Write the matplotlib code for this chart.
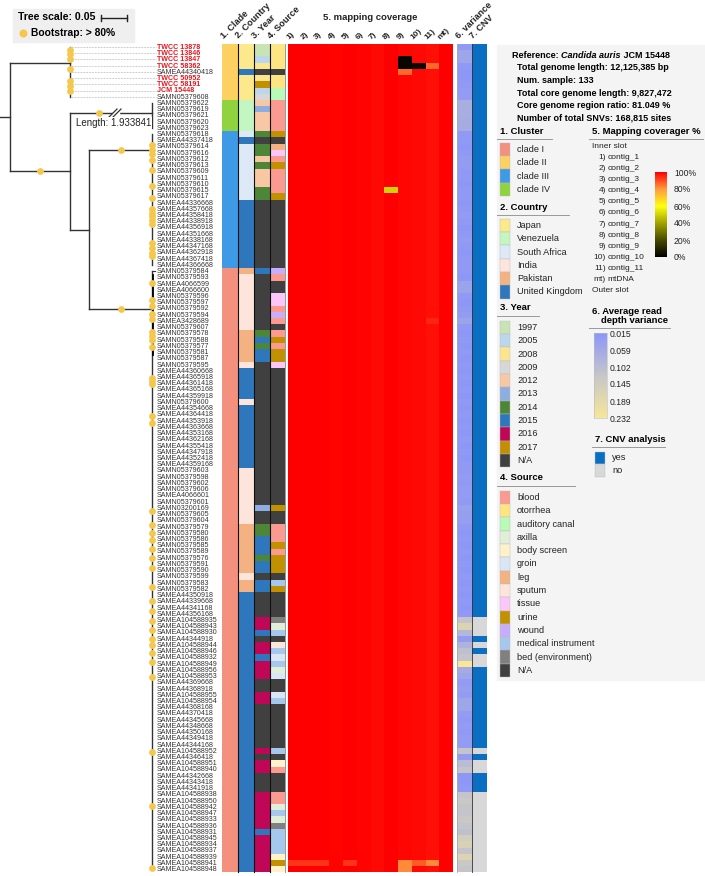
import numpy as np
import matplotlib
matplotlib.use('Agg')
import matplotlib.pyplot as plt
from matplotlib.colors import LinearSegmentedColormap, ListedColormap, BoundaryNorm
from matplotlib.patches import Rectangle
from matplotlib.cm import ScalarMappable
from matplotlib.colors import Normalize

plt.rcParams['font.family'] = ['Liberation Sans', 'DejaVu Sans']

# ---------------- data ----------------
samples = [
    "TWCC 13878", "TWCC 13846", "TWCC 13847", "TWCC 58362", "SAMEA44340418", "TWCC 50952",
    "TWCC 58191", "JCM 15448", "SAMN05379608", "SAMN05379622", "SAMN05379619", "SAMN05379621",
    "SAMN05379620", "SAMN05379623", "SAMN05379618", "SAMEA44337418", "SAMN05379614", "SAMN05379616",
    "SAMN05379612", "SAMN05379613", "SAMN05379609", "SAMN05379611", "SAMN05379610", "SAMN05379615",
    "SAMN05379617", "SAMEA44336668", "SAMEA44357668", "SAMEA44358418", "SAMEA44338918", "SAMEA44356918",
    "SAMEA44351668", "SAMEA44338168", "SAMEA44347168", "SAMEA44362918", "SAMEA44367418", "SAMEA44366668",
    "SAMN05379584", "SAMN05379593", "SAMEA4066599", "SAMEA4066600", "SAMN05379596", "SAMN05379597",
    "SAMN05379592", "SAMN05379594", "SAMEA3428689", "SAMN05379607", "SAMN05379578", "SAMN05379588",
    "SAMN05379577", "SAMN05379581", "SAMN05379587", "SAMN05379595", "SAMEA44360668", "SAMEA44365918",
    "SAMEA44361418", "SAMEA44365168", "SAMEA44359918", "SAMN05379600", "SAMEA44354668", "SAMEA44364418",
    "SAMEA44353918", "SAMEA44363668", "SAMEA44353168", "SAMEA44362168", "SAMEA44355418", "SAMEA44347918",
    "SAMEA44352418", "SAMEA44359168", "SAMN05379603", "SAMN05379598", "SAMN05379602", "SAMN05379606",
    "SAMEA4066601", "SAMN05379601", "SAMN03200169", "SAMN05379605", "SAMN05379604", "SAMN05379579",
    "SAMN05379580", "SAMN05379586", "SAMN05379585", "SAMN05379589", "SAMN05379576", "SAMN05379591",
    "SAMN05379590", "SAMN05379599", "SAMN05379583", "SAMN05379582", "SAMEA44350918", "SAMEA44339668",
    "SAMEA44341168", "SAMEA44356168", "SAMEA104588935", "SAMEA104588943", "SAMEA104588930", "SAMEA44344918",
    "SAMEA104588944", "SAMEA104588946", "SAMEA104588932", "SAMEA104588949", "SAMEA104588956", "SAMEA104588953",
    "SAMEA44369668", "SAMEA44368918", "SAMEA104588955", "SAMEA104588954", "SAMEA44368168", "SAMEA44370418",
    "SAMEA44345668", "SAMEA44348668", "SAMEA44350168", "SAMEA44349418", "SAMEA44344168", "SAMEA104588952",
    "SAMEA44346418", "SAMEA104588951", "SAMEA104588940", "SAMEA44342668", "SAMEA44343418", "SAMEA44341918",
    "SAMEA104588938", "SAMEA104588950", "SAMEA104588942", "SAMEA104588947", "SAMEA104588933", "SAMEA104588936",
    "SAMEA104588931", "SAMEA104588945", "SAMEA104588934", "SAMEA104588937", "SAMEA104588939", "SAMEA104588941",
    "SAMEA104588948",
]
highlight_samples = ["TWCC 13878", "TWCC 13846", "TWCC 13847", "TWCC 58362",
                     "TWCC 50952", "TWCC 58191", "JCM 15448"]

cluster_cats = ["clade I", "clade II", "clade III", "clade IV"]
cluster_colors = ["#f4907e", "#fdd062", "#3f9ae6", "#8fd43f"]
cluster_runs = [("clade II", 9), ("clade IV", 5), ("clade III", 22), ("clade I", 97)]

country_cats = ["Japan", "Venezuela", "South Africa", "India", "Pakistan", "United Kingdom"]
country_colors = ["#fbe98c", "#c3f6c1", "#dde9f6", "#fde5dc", "#f4b181", "#2f77bd"]
country_runs = [("Japan", 4), ("United Kingdom", 1), ("Japan", 4), ("Venezuela", 5),
                ("South Africa", 1), ("United Kingdom", 1), ("South Africa", 9),
                ("United Kingdom", 11), ("Pakistan", 1), ("India", 9), ("Pakistan", 5),
                ("India", 1), ("United Kingdom", 5), ("India", 1), ("United Kingdom", 10),
                ("India", 9), ("Pakistan", 8), ("India", 1), ("Pakistan", 2),
                ("United Kingdom", 45)]

year_cats = ["1997", "2005", "2008", "2009", "2012", "2013", "2014", "2015", "2016", "2017", "N/A"]
year_colors = ["#c8e3b4", "#bcd6ee", "#fbe68f", "#d7d7d7", "#f8c8a5", "#8eaee1",
               "#4d8636", "#2f77bd", "#c00656", "#c28f00", "#404040"]
year_runs = [("1997", 2), ("2005", 1), ("2008", 1), ("N/A", 1), ("2008", 1), ("2017", 1),
             ("2005", 1), ("2009", 1), ("2012", 1), ("2013", 1), ("2012", 3), ("2014", 1),
             ("N/A", 1), ("2014", 2), ("2012", 1), ("2014", 1), ("2012", 3), ("2014", 2),
             ("N/A", 11), ("2015", 1), ("N/A", 9), ("2014", 1), ("2015", 1), ("2014", 1),
             ("2015", 2), ("N/A", 23), ("2013", 1), ("N/A", 2), ("2014", 2), ("2015", 3),
             ("2014", 1), ("2015", 2), ("N/A", 1), ("2015", 2), ("N/A", 4), ("2016", 2),
             ("2015", 1), ("N/A", 1), ("2016", 2), ("2015", 1), ("2016", 3), ("N/A", 2),
             ("2016", 2), ("N/A", 7), ("2016", 1), ("N/A", 1), ("2016", 2), ("N/A", 3),
             ("2016", 6), ("2015", 1), ("2016", 6)]

source_cats = ["blood", "otorrhea", "auditory canal", "axilla", "body screen", "groin", "leg",
               "sputum", "tissue", "urine", "wound", "medical instrument", "bed (environment)", "N/A"]
source_colors = ["#fb9a90", "#fde582", "#b8fab8", "#e1eed8", "#fff1ca", "#d8e6f6", "#f4b181",
                 "#fde5dc", "#fbc6f8", "#c29100", "#c8aefa", "#a5c8ec", "#808080", "#404040"]
source_runs = [("otorrhea", 4), ("N/A", 1), ("otorrhea", 2), ("auditory canal", 2), ("blood", 5),
               ("urine", 1), ("N/A", 1), ("leg", 1), ("tissue", 1), ("blood", 1), ("urine", 1),
               ("blood", 4), ("urine", 1), ("N/A", 11), ("wound", 1), ("blood", 1), ("N/A", 2),
               ("tissue", 2), ("blood", 1), ("wound", 1), ("blood", 1), ("N/A", 1), ("blood", 1),
               ("urine", 1), ("blood", 1), ("urine", 2), ("tissue", 1), ("N/A", 22), ("urine", 1),
               ("N/A", 2), ("blood", 3), ("urine", 1), ("blood", 1), ("urine", 3), ("N/A", 1),
               ("medical instrument", 1), ("urine", 1), ("N/A", 4), ("bed (environment)", 1),
               ("axilla", 1), ("medical instrument", 1), ("N/A", 1), ("sputum", 1),
               ("medical instrument", 1), ("groin", 1), ("medical instrument", 1), ("axilla", 1),
               ("groin", 1), ("N/A", 2), ("groin", 1), ("medical instrument", 1), ("N/A", 7),
               ("medical instrument", 1), ("N/A", 1), ("body screen", 1), ("blood", 1), ("N/A", 3),
               ("blood", 2), ("axilla", 1), ("medical instrument", 1), ("axilla", 1),
               ("bed (environment)", 1), ("medical instrument", 4), ("body screen", 1), ("urine", 1),
               ("body screen", 1)]

coverage_cols = ["1)", "2)", "3)", "4)", "5)", "6)", "7)", "8)", "9)", "10)", "11)", "mt)"]
contig_names = ["contig_1", "contig_2", "contig_3", "contig_4", "contig_5", "contig_6", "contig_7",
                "contig_8", "contig_9", "contig_10", "contig_11", "mtDNA"]
# typical coverage fraction per contig column
coverage_base = [1.0, 1.0, 1.0, 0.995, 1.0, 0.995, 0.985, 1.0, 0.99, 0.985, 0.98, 1.0]
# (row, column, coverage) cells that differ from the column's typical value
coverage_cells = [(3, 9, 0.02), (4, 9, 0.02), (4, 10, 0.03), (4, 11, 0.86), (5, 9, 0.86),
                  (24, 8, 0.5), (45, 11, 0.95),
                  (132, 1, 0.93), (132, 2, 0.93), (132, 3, 0.93), (132, 5, 0.93),
                  (132, 9, 0.82), (132, 10, 0.88), (132, 11, 0.82), (133, 9, 0.82)]

variance = [0.025, 0.05, 0.05, 0.025, 0.02, 0.02, 0.025, 0.03, 0.03,
            0.07, 0.07, 0.07, 0.065, 0.065,
            0.025, 0.025, 0.02, 0.025, 0.03, 0.03, 0.025, 0.025, 0.02, 0.025, 0.025,
            0.02, 0.025, 0.03, 0.025, 0.02, 0.025, 0.03, 0.025, 0.02, 0.025, 0.025,
            0.025, 0.02, 0.045, 0.045, 0.025, 0.02, 0.025, 0.03, 0.045, 0.025, 0.02, 0.025,
            0.02, 0.025, 0.02, 0.025, 0.02, 0.025, 0.02, 0.025, 0.02, 0.025, 0.02, 0.025,
            0.02, 0.025, 0.02, 0.025, 0.02, 0.025, 0.02, 0.025,
            0.025, 0.03, 0.025, 0.03, 0.03, 0.025, 0.04, 0.035, 0.035, 0.025, 0.02, 0.025,
            0.02, 0.025, 0.02, 0.025, 0.02, 0.025, 0.02, 0.025, 0.02, 0.025, 0.02, 0.025,
            0.12, 0.17, 0.09, 0.03, 0.08, 0.11, 0.12, 0.232, 0.06, 0.05,
            0.03, 0.035, 0.03, 0.05, 0.05, 0.03, 0.025, 0.03, 0.025, 0.03, 0.03,
            0.12, 0.03, 0.1, 0.12, 0.02, 0.02, 0.025,
            0.12, 0.13, 0.12, 0.12, 0.13, 0.12, 0.11, 0.15, 0.16, 0.12, 0.17, 0.13, 0.12]
variance_ticks = [0.015, 0.059, 0.102, 0.145, 0.189, 0.232]

cnv_cats = ["yes", "no"]
cnv_colors = ["#0a6fc2", "#d8d8d8"]
cnv_runs = [("yes", 92), ("no", 3), ("yes", 1), ("no", 1), ("yes", 1), ("no", 2), ("yes", 13),
            ("no", 1), ("yes", 1), ("no", 2), ("yes", 3), ("no", 13)]

# tree: branch depths (substitutions/site) and clade tip ranges
node_depth = {"root": 0.0, "II": 0.115, "A": 0.115, "B": 0.152, "IV": 0.273, "III": 0.273, "I": 0.273}
clade_rows = {"II": (1, 9), "IV": (10, 14), "III": (15, 36), "I": (37, 133)}
clade_join_row = {"II": 3.57, "IV": 11.6, "III": 17.5, "I": 43.1}
children = {"root": ["II", "A"], "A": ["IV", "B"], "B": ["III", "I"]}
boot_branch = {"A": 0.5, "IV": 0.36, "III": 0.5, "I": 0.5}
boot_tip_rows = {
    "II": [1.5, 2.2, 2.9, 4.6, 6.5, 7.3, 8.0],
    "III": [16.8, 17.5, 18.2, 19.2, 20.8, 23.3, 25.3, 27.0, 27.6, 28.2, 28.8, 29.4,
            32.4, 33.2, 34.0, 34.6],
    "I": [38.8, 41.6, 42.6, 43.8, 44.7, 46.8, 47.4, 48.0, 49.1, 54.1, 54.6, 55.1, 60.2, 61.3,
          75.5, 77.8, 79.0, 80.1, 81.5, 83.1, 84.6, 87.7, 90.0, 91.5, 93.1, 94.6, 96.0, 97.0,
          98.3, 99.7, 102.2, 114.1, 122.9, 132.8],
}

info_lines = ["Total genome length: 12,125,385 bp", "Num. sample: 133",
              "Total core genome length: 9,827,472", "Core genome region ratio: 81.049 %",
              "Number of total SNVs: 168,815 sites"]


def expand(runs):
    out = []
    for name, n in runs:
        out += [name] * n
    return out


# ---------------- layout (pixels) ----------------
W, H = 705, 876
ROW0, RH = 43.9, 6.23
N = len(samples)
XSCALE, X0 = 520.0, 10.0          # tree px per unit, root x
TIP_X = 157
META_EDGES = [222, 237.5, 253.5, 269.5, 285]
COV_X0, COV_X1 = 288, 453
VAR_X = (457, 471.5)
CNV_X = (471.5, 487)
YEDGES = ROW0 + RH * np.arange(N + 1)
BOOT_C = "#f5c84c"


def yrow(r):
    return ROW0 + RH * (r - 0.5)


def xd(d):
    return X0 + d * XSCALE


fig = plt.figure(figsize=(W / 100, H / 100), dpi=100)
ax = fig.add_axes([0, 0, 1, 1])
ax.set_xlim(0, W)
ax.set_ylim(H, 0)
ax.axis("off")

# ---------------- tree ----------------
lc = "#333333"
join_y = {k: yrow(v) for k, v in clade_join_row.items()}


def node_y(n):
    if n in join_y:
        return join_y[n]
    return np.mean([node_y(c) for c in children[n]])


for n, (lo, hi) in clade_rows.items():
    ax.plot([xd(node_depth[n])] * 2, [yrow(lo), yrow(hi)], color=lc, lw=1.0, zorder=2)

for p, chs in children.items():
    ys = [node_y(c) for c in chs]
    ax.plot([xd(node_depth[p])] * 2, [min(ys), max(ys)], color=lc, lw=1.0, zorder=2)
    for c in chs:
        ax.plot([xd(node_depth[p]), xd(node_depth[c])], [node_y(c)] * 2, color=lc, lw=1.0, zorder=2)
        if c in boot_branch:
            f = boot_branch[c]
            ax.scatter([xd(node_depth[p]) * (1 - f) + xd(node_depth[c]) * f], [node_y(c)],
                       s=24, color=BOOT_C, zorder=5, linewidths=0)
ax.plot([0, xd(0)], [node_y("root")] * 2, color=lc, lw=1.0)

# clade I internal structure
ax.plot([xd(node_depth["I"]) + 1.5] * 2, [yrow(37.6), yrow(50.5)], color="black", lw=1.3, zorder=3)
ax.plot([xd(node_depth["I"]), xd(node_depth["I"]) + 3], [yrow(37)] * 2, color=lc, lw=0.8)

# truncated long branch to clade IV
xa, xb = xd(node_depth["A"]), xd(node_depth["IV"])
yiv = node_y("IV")
bx = xa + 0.55 * (xb - xa)
ax.add_patch(Rectangle((bx - 2, yiv - 3), 6, 6, color="white", zorder=3))
for dx in (-2, 2):
    ax.plot([bx + dx - 4, bx + dx + 4], [yiv + 4, yiv - 4], color=lc, lw=0.9, zorder=4)
ax.text(xa + 6, yiv + 10, "Length: 1.933841", fontsize=7, va="center", ha="left", color="#222222",
        bbox=dict(facecolor="white", edgecolor="none", pad=0.5), zorder=4)

# dotted leader lines for clade II
lo, hi = clade_rows["II"]
for r in range(lo, hi + 1):
    ax.plot([xd(node_depth["II"]), TIP_X - 1], [yrow(r)] * 2, color="#999999", lw=0.5,
            ls=(0, (1, 1.2)), zorder=1)

for n, rows in boot_tip_rows.items():
    ax.scatter([xd(node_depth[n])] * len(rows), [yrow(r) for r in rows], s=24, color=BOOT_C,
               zorder=5, linewidths=0)

# labels
for i, s in enumerate(samples):
    hl = s in highlight_samples
    ax.text(TIP_X, yrow(i + 1) + 0.3, s, fontsize=5.1, va="center", ha="left",
            color="#e8151c" if hl else "#333333", fontweight="bold" if hl else "normal")

# ---------------- metadata strips ----------------
meta = [(expand(cluster_runs), cluster_cats, cluster_colors),
        (expand(country_runs), country_cats, country_colors),
        (expand(year_runs), year_cats, year_colors),
        (expand(source_runs), source_cats, source_colors)]
for k, (vals, cats, cols) in enumerate(meta):
    codes = np.array([cats.index(v) for v in vals]).reshape(-1, 1)
    cmap = ListedColormap(cols)
    norm = BoundaryNorm(np.arange(len(cats) + 1) - 0.5, len(cats))
    ax.pcolormesh([META_EDGES[k], META_EDGES[k + 1]], YEDGES, codes, cmap=cmap, norm=norm,
                  zorder=2)
for x in META_EDGES[1:4]:
    ax.plot([x, x], [YEDGES[0], YEDGES[-1]], color="#111111", lw=0.8, zorder=3)
ax.plot([META_EDGES[4]] * 2, [YEDGES[0], YEDGES[-1]], color="#888888", lw=0.6, zorder=3)

# coverage heatmap
cov = np.tile(np.array(coverage_base), (N, 1))
for r, c, v in coverage_cells:
    cov[r - 1, c - 1] = v
cov_cmap = LinearSegmentedColormap.from_list(
    "cov", [(0, "#000000"), (0.2, "#4a4a00"), (0.4, "#a3a300"), (0.6, "#ffff10"),
            (0.8, "#ff9a40"), (1.0, "#ff0000")])
ax.pcolormesh(np.linspace(COV_X0, COV_X1, len(coverage_cols) + 1), YEDGES, cov, cmap=cov_cmap,
              vmin=0, vmax=1, zorder=2)

# variance
var_cmap = LinearSegmentedColormap.from_list("var", [(0, "#8b96f8"), (0.5, "#c6c6c8"),
                                                     (1.0, "#f7e796")])
ax.pcolormesh(list(VAR_X), YEDGES, np.array(variance).reshape(-1, 1), cmap=var_cmap,
              vmin=variance_ticks[0], vmax=variance_ticks[-1], zorder=2)
ax.plot([VAR_X[0]] * 2, [YEDGES[0], YEDGES[-1]], color="#aaaaaa", lw=0.6, zorder=3)

# cnv
cnv_vals = expand(cnv_runs)
ax.pcolormesh(list(CNV_X), YEDGES, np.array([cnv_cats.index(v) for v in cnv_vals]).reshape(-1, 1),
              cmap=ListedColormap(cnv_colors), norm=BoundaryNorm([-0.5, 0.5, 1.5], 2), zorder=2)
ax.plot([CNV_X[0]] * 2, [YEDGES[0], YEDGES[-1]], color="#333333", lw=0.6, zorder=3)

# headers
hdr_kw = dict(fontsize=6.6, fontweight="bold", rotation=45, rotation_mode="anchor",
              ha="left", va="bottom", color="#222222")
for k, t in enumerate(["1. Clade", "2. Country", "3. Year", "4. Source"]):
    ax.text(META_EDGES[k] + 3, 40, t, **hdr_kw)
cw = (COV_X1 - COV_X0) / len(coverage_cols)
for j, t in enumerate(coverage_cols):
    ax.text(COV_X0 + cw * j + 2.5, 41, t, **dict(hdr_kw, fontsize=6.0))
ax.text(VAR_X[0] + 3, 40, "6. variance", **hdr_kw)
ax.text(CNV_X[0] + 3, 40, "7. CNV", **hdr_kw)
ax.text((COV_X0 + COV_X1) / 2, 17, "5. mapping coverage", fontsize=6.8, fontweight="bold",
        ha="center", va="center", color="#222222")

# ---------------- tree legend box ----------------
ax.add_patch(Rectangle((13, 9), 121, 33, color="#efefef", zorder=0))
ax.text(18, 17.5, "Tree scale: 0.05", fontsize=7.6, fontweight="bold", va="center", ha="left")
sb0 = 101
ax.plot([sb0, sb0 + 0.05 * XSCALE], [17.5, 17.5], color="#222222", lw=1.0)
for x in (sb0, sb0 + 0.05 * XSCALE):
    ax.plot([x, x], [14.5, 20.5], color="#222222", lw=1.0)
ax.scatter([23], [32.5], s=34, color=BOOT_C, linewidths=0)
ax.text(31, 32.5, "Bootstrap: > 80%", fontsize=7.4, fontweight="bold", va="center", ha="left")

# ---------------- right legend panel ----------------
ax.add_patch(Rectangle((497, 45), W - 497, 635, color="#f4f4f4", zorder=0))
t1 = ax.text(512, 55, "Reference: ", fontsize=6.5, fontweight="bold", va="center", ha="left")
t2 = ax.annotate("Candida auris", xy=(1, 0.5), xycoords=t1, fontsize=6.5, fontweight="bold",
                 style="italic", va="center", ha="left")
ax.annotate(" JCM 15448", xy=(1, 0.5), xycoords=t2, fontsize=6.5, fontweight="bold",
            va="center", ha="left")
for i, t in enumerate(info_lines):
    ax.text(517, 67.8 + 12.6 * i, t, fontsize=6.5, fontweight="bold", va="center", ha="left")


def cat_legend(title, cats, cols, x, ytitle, ystart, step, uline_w):
    ax.text(x, ytitle, title, fontsize=6.8, fontweight="bold", va="center", ha="left")
    ax.plot([x - 3, x - 3 + uline_w], [ytitle + 8, ytitle + 8], color="#9a9a9a", lw=0.7)
    for i, (c, col) in enumerate(zip(cats, cols)):
        yy = ystart + step * i
        ax.add_patch(Rectangle((x, yy - step / 2), 10, step, facecolor=col, edgecolor="#bbbbbb",
                               lw=0.3))
        ax.text(x + 17, yy, c, fontsize=6.6, va="center", ha="left", color="#222222")


cat_legend("1. Cluster", cluster_cats, cluster_colors, 500, 131, 149.5, 13.3, 55)
cat_legend("2. Country", country_cats, country_colors, 500, 207, 225.5, 13.3, 72)
cat_legend("3. Year", year_cats, year_colors, 500, 308, 327.5, 13.3, 42)
cat_legend("4. Source", source_cats, source_colors, 500, 478, 497.5, 13.3, 78)

# 5. mapping coverage
ax.text(592, 131, "5. Mapping coverager %", fontsize=6.8, fontweight="bold", va="center", ha="left")
ax.plot([589, 703], [139, 139], color="#9a9a9a", lw=0.7)
ax.text(592, 146.5, "Inner slot", fontsize=6.0, va="center", ha="left", color="#222222")
for i, (c, n) in enumerate(zip(coverage_cols, contig_names)):
    ax.text(606, 157.5 + 11.1 * i, c, fontsize=6.0, va="center", ha="right", color="#222222")
    ax.text(607.5, 157.5 + 11.1 * i, n, fontsize=6.0, va="center", ha="left", color="#222222")
ax.text(592, 290.5, "Outer slot", fontsize=6.0, va="center", ha="left", color="#222222")

cax = fig.add_axes([655 / W, 1 - 257 / H, 12 / W, 85 / H])
cb = fig.colorbar(ScalarMappable(norm=Normalize(0, 100), cmap=cov_cmap), cax=cax)
cb.outline.set_visible(False)
cb.set_ticks([0, 20, 40, 60, 80, 100])
cb.set_ticklabels(["0%", "20%", "40%", "60%", "80%", "100%"])
cax.tick_params(length=0, labelsize=6.2, pad=5, colors="#222222")

# 6. variance
ax.text(592, 312, "6. Average read", fontsize=6.8, fontweight="bold", va="center", ha="left")
ax.text(601, 320.5, "depth variance", fontsize=6.8, fontweight="bold", va="center", ha="left")
ax.plot([589, 670], [328, 328], color="#9a9a9a", lw=0.7)
vax = fig.add_axes([594 / W, 1 - 418 / H, 13 / W, 85 / H])
vb = fig.colorbar(ScalarMappable(norm=Normalize(variance_ticks[0], variance_ticks[-1]),
                                 cmap=var_cmap), cax=vax)
vax.invert_yaxis()
vb.outline.set_edgecolor("#bbbbbb")
vb.outline.set_linewidth(0.4)
vb.set_ticks(variance_ticks)
vb.set_ticklabels([f"{v:.3f}" for v in variance_ticks])
vax.tick_params(length=0, labelsize=6.2, pad=2, colors="#222222")

# 7. CNV
cat_legend("7. CNV analysis", cnv_cats, cnv_colors, 595, 439, 458, 12.5, 73)

fig.savefig("out.png", dpi=100)
